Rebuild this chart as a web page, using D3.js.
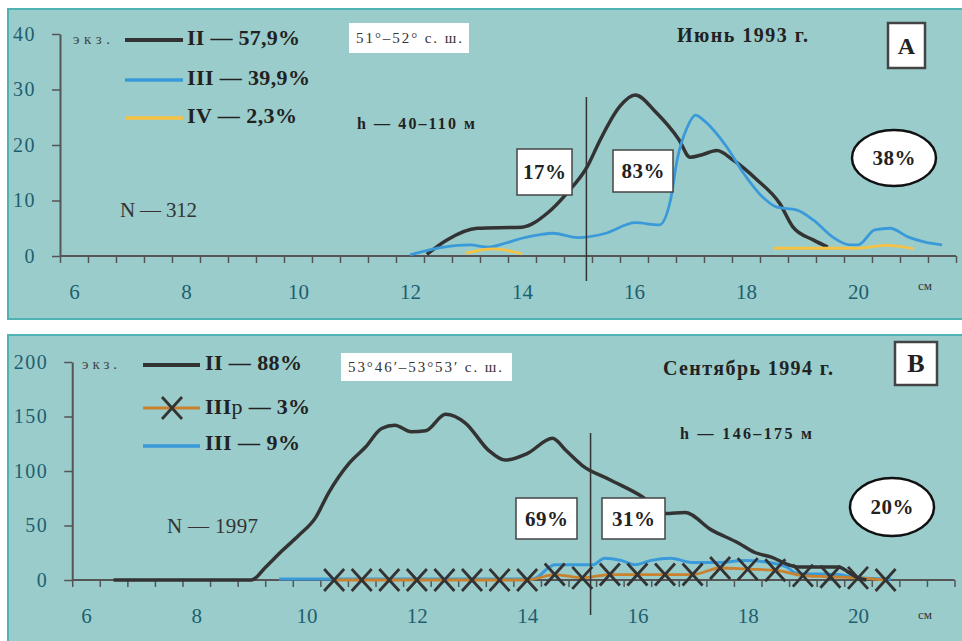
<!DOCTYPE html>
<html>
<head>
<meta charset="utf-8">
<script src="https://cdn.jsdelivr.net/npm/d3@7"></script>
<style>
  body { margin: 0; background: #fff; }
  svg { display: block; }
  text { font-family: "Liberation Serif", "DejaVu Serif", serif; }
</style>
</head>
<body>
<svg id="chart" width="962" height="641"></svg>
<script>
// длина тела, см (подписи оси X) и деления оси Y
const cmLabels = [6, 8, 10, 12, 14, 16, 18, 20];
const yTicksA = [0, 10, 20, 30, 40];
const yTicksB = [0, 50, 100, 150, 200];
const splitCm = 15.15; // граница 17% / 83%

// A - июнь 1993 г., [см, экз.]
const a_II = [[12.3,0.3],[12.66,2.9],[13.2,5],[14.0,5.2],[14.45,7.7],[14.8,11.3],[15.16,16],[15.4,21],
  [15.75,27],[16.02,29],[16.4,25.8],[16.8,21],[17.0,17.8],[17.2,18.2],[17.48,19],[17.77,17.3],
  [18.2,13.7],[18.6,9.5],[18.84,5.2],[19.2,2.9],[19.46,1.6]];
const a_III = [[12.0,0.2],[12.6,1.6],[13.07,2.0],[13.4,1.6],[13.7,2.3],[14.0,3.2],[14.3,3.8],[14.55,4.1],
  [15.0,3.3],[15.5,4.1],[16.02,6.0],[16.45,5.6],[16.65,10],[16.77,17.3],[16.95,23.2],[17.1,25.4],
  [17.24,24.5],[17.66,19.6],[17.95,15],[18.3,10.6],[18.55,8.8],[18.9,8.3],[19.2,6.5],[19.55,3.4],
  [19.86,2],[20.0,2],[20.3,4.7],[20.57,5],[20.9,3.4],[21.2,2.5],[21.5,2]];
const a_IV = [[13.0,0.5],[13.48,1.3],[14.0,0.4],[14.01,null],[18.5,1.4],[20.0,1.4],[20.5,1.9],[21.0,1.3]];

// B - сентябрь 1994 г.
const b_II = [[6.5,0],[9.0,0],[9.26,12],[9.56,27],[9.86,41],[10.16,57],[10.4,80],[10.77,107],[11.07,122],
  [11.36,139],[11.6,142],[11.9,136],[12.16,137],[12.52,152],[12.88,144],[13.3,119],[13.6,110],[14.0,116],
  [14.46,130],[14.7,119],[15.0,105],[15.5,92],[16.1,76],[16.5,61],[16.86,62],[17.34,46],[17.83,34],
  [18.14,25],[18.43,21],[18.74,14],[18.9,12],[19.65,12],[19.83,7],[20.0,2],[20.15,0]];
const b_III = [[9.5,1],[14.1,1],[14.5,14],[15.2,14],[15.4,20],[15.7,18],[15.96,14],[16.25,18],[16.6,20],
  [17.0,16],[17.47,16],[17.95,18],[18.4,16],[18.7,12],[18.9,6],[19.65,5],[19.96,2],[20.6,1]];
const b_IIIp = [[10.5,0],[11,0],[11.5,0],[12,0],[12.5,0],[13,0],[13.5,0],[14,0],[14.5,5],[15,2],[15.5,5],
  [16,5],[16.5,5],[17,5],[17.5,11],[18,10],[18.5,9],[19,4],[19.5,3],[20,2],[20.5,0]];

const svg = d3.select("#chart");
const teal = "#9acccb", axisCol = "#555", tickCol = "#1d5f70";

function drawPanel(top, bottom, x, y, yTicks) {
  // фон панели
  svg.append("rect").attr("x", 8).attr("y", top).attr("width", 970).attr("height", bottom - top)
    .attr("fill", teal).attr("stroke", "#4fb3b3").attr("stroke-width", 2);

  const g = svg.append("g");
  // ось X - деления через 0.5 см между категориями
  const xa = g.append("g").attr("transform", `translate(0,${y(0)})`)
    .call(d3.axisBottom(x).tickValues(d3.range(5.75, 21.8, 0.5)).tickSize(7).tickFormat(""));
  xa.select(".domain").remove();
  xa.selectAll("line").attr("stroke", axisCol).attr("stroke-width", 1.5);
  g.append("line").attr("x1", x(5.75)).attr("x2", x(21.75)).attr("y1", y(0)).attr("y2", y(0))
    .attr("stroke", axisCol).attr("stroke-width", 2);

  const xl = g.append("g").attr("transform", `translate(0,${y(0)})`)
    .call(d3.axisBottom(x).tickValues(cmLabels).tickSize(0).tickPadding(28).tickFormat(d3.format("d")));
  xl.select(".domain").remove();
  xl.selectAll("text").attr("font-size", 21).attr("fill", tickCol).attr("font-family", "Liberation Serif");

  const ya = g.append("g").attr("transform", `translate(${x(5.75)},0)`)
    .call(d3.axisLeft(y).tickValues(yTicks).tickSize(8).tickSizeOuter(0).tickPadding(16));
  ya.select(".domain").attr("stroke", axisCol).attr("stroke-width", 2);
  ya.selectAll("line").attr("stroke", axisCol).attr("stroke-width", 1.5);
  ya.selectAll("text").attr("font-size", 20).attr("fill", tickCol).attr("font-family", "Liberation Serif")
    .attr("letter-spacing", 1.5);
  return g;
}

function curve(g, data, x, y, color, w) {
  const line = d3.line().defined(d => d[1] != null)
    .x(d => x(d[0])).y(d => y(d[1])).curve(d3.curveMonotoneX);
  g.append("path").datum(data).attr("d", line).attr("fill", "none")
    .attr("stroke", color).attr("stroke-width", w).attr("stroke-linejoin", "round");
}

function label(t, px, py, size, opts = {}) {
  const el = svg.append("text").attr("x", px).attr("y", py).attr("font-size", size)
    .attr("font-weight", opts.bold ? "bold" : "normal").attr("fill", opts.fill || "#222")
    .attr("text-anchor", opts.anchor || "start").text(t);
  if (opts.len) el.attr("textLength", opts.len).attr("lengthAdjust", "spacing");
  if (opts.family) el.attr("font-family", opts.family);
  return el;
}

function box(x0, y0, w, h, t, size, sw, len, family) {
  svg.append("rect").attr("x", x0).attr("y", y0).attr("width", w).attr("height", h)
    .attr("fill", "#fff").attr("stroke", "#444").attr("stroke-width", sw);
  label(t, x0 + w / 2, y0 + h / 2 + size * 0.34, size, { bold: true, anchor: "middle", len: len, family: family });
}

function oval(cx, cy, rx, ry, t) {
  svg.append("ellipse").attr("cx", cx).attr("cy", cy).attr("rx", rx).attr("ry", ry)
    .attr("fill", "#fff").attr("stroke", "#111").attr("stroke-width", 2.5);
  label(t, cx, cy + 7, 21, { bold: true, anchor: "middle", len: 43 });
}

function legendLine(x1, x2, yy, color, w) {
  svg.append("line").attr("x1", x1).attr("x2", x2).attr("y1", yy).attr("y2", yy)
    .attr("stroke", color).attr("stroke-width", w);
}

const cross = "M-10,-11L10,11M-10,11L10,-11";

// ---------- A ----------
const xA = d3.scaleLinear().domain([6, 20]).range([74, 858]);
const yA = d3.scaleLinear().domain([0, 40]).range([256, 34]);
const gA = drawPanel(9, 319, xA, yA, yTicksA);
curve(gA, a_II, xA, yA, "#333", 3.5);
curve(gA, a_III, xA, yA, "#3a9ad9", 2.8);
curve(gA, a_IV, xA, yA, "#f6c243", 2.8);
gA.append("line").attr("x1", xA(splitCm)).attr("x2", xA(splitCm)).attr("y1", 97).attr("y2", 281)
  .attr("stroke", "#333").attr("stroke-width", 1.5);

label("экз.", 73, 44, 15, { fill: "#444", len: 37 });
legendLine(125, 183, 40, "#333", 4);
legendLine(125, 183, 80, "#3a9ad9", 3.5);
legendLine(125, 183, 118, "#f6c243", 3.5);
label("II — 57,9%", 187, 45, 22, { bold: true, len: 113 });
label("III — 39,9%", 187, 85, 22, { bold: true, len: 123 });
label("IV — 2,3%", 187, 123, 22, { bold: true, len: 110 });
svg.append("rect").attr("x", 349).attr("y", 23).attr("width", 120).attr("height", 30).attr("fill", "#fff");
label("51°–52° с. ш.", 409, 43, 15, { anchor: "middle", fill: "#333", len: 106 });
label("h — 40–110 м", 357, 129, 16, { bold: true, len: 118 });
label("N — 312", 120, 217, 21, { fill: "#333", len: 77 });
label("Июнь 1993 г.", 677, 42, 20, { bold: true, len: 131 });
box(888, 23, 37, 45, "A", 24, 2.5, null, "Liberation Sans");
box(517, 149, 55, 46, "17%", 21, 1.5, 43);
box(613, 150, 60, 42, "83%", 21, 1.5, 43);
oval(894, 158, 42, 28, "38%");
label("см", 918, 290, 13, { fill: "#333" });

// ---------- B ----------
const xB = d3.scaleLinear().domain([6, 20]).range([86, 858]);
const yB = d3.scaleLinear().domain([0, 200]).range([580, 362]);
const gB = drawPanel(335, 660, xB, yB, yTicksB);
curve(gB, b_III, xB, yB, "#3a9ad9", 3);
curve(gB, b_IIIp, xB, yB, "#c9812e", 2.8);
gB.selectAll(".mk").data(b_IIIp).join("path").attr("class", "mk")
  .attr("transform", d => `translate(${xB(d[0])},${yB(d[1])})`).attr("d", cross)
  .attr("stroke", "#333").attr("stroke-width", 2.8).attr("fill", "none");
curve(gB, b_II, xB, yB, "#333", 3.5);
gB.append("line").attr("x1", xB(splitCm)).attr("x2", xB(splitCm)).attr("y1", 433).attr("y2", 615)
  .attr("stroke", "#333").attr("stroke-width", 1.5);

label("экз.", 82, 369, 15, { fill: "#444", len: 35 });
legendLine(143, 200, 365, "#333", 4);
legendLine(143, 200, 408, "#c9812e", 3);
svg.append("path").attr("transform", "translate(172,408)").attr("d", cross)
  .attr("stroke", "#333").attr("stroke-width", 2.8).attr("fill", "none");
legendLine(143, 200, 446, "#3a9ad9", 3.5);
label("II — 88%", 205, 370, 22, { bold: true, len: 97 });
const tp = label("III", 205, 414, 22, { bold: true, len: 105 });
tp.append("tspan").attr("font-weight", "normal").text("р");
tp.append("tspan").text(" — 3%");
label("III — 9%", 205, 450, 22, { bold: true, len: 95 });
svg.append("rect").attr("x", 341).attr("y", 353).attr("width", 171).attr("height", 28).attr("fill", "#fff");
label("53°46′–53°53′ с. ш.", 425, 372, 15, { anchor: "middle", fill: "#333", len: 154 });
label("Сентябрь 1994 г.", 663, 375, 20, { bold: true, len: 170 });
box(895, 342, 42, 43, "B", 26, 2.5);
label("h — 146–175 м", 680, 439, 16, { bold: true, len: 132 });
box(516, 498, 61, 41, "69%", 21, 1.5, 43);
box(602, 498, 63, 41, "31%", 21, 1.5, 43);
oval(892, 507, 42, 29, "20%");
label("N — 1997", 167, 533, 21, { fill: "#333", len: 91 });
label("см", 918, 619, 13, { fill: "#333" });
</script>
</body>
</html>
